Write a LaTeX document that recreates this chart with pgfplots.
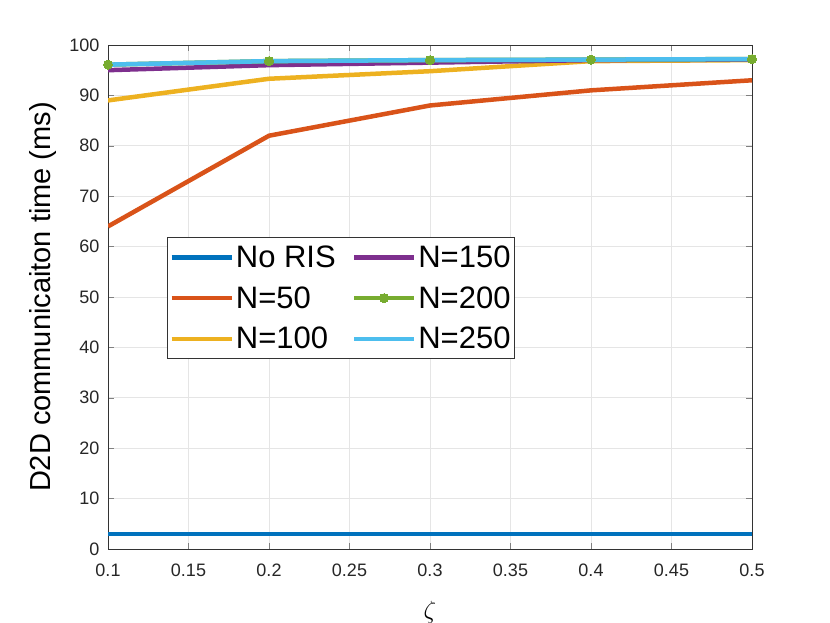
\documentclass[border=0pt]{standalone}
\usepackage{pgfplots}
\pgfplotsset{compat=1.18}
\usepackage{fontspec}
\setmainfont{Liberation Sans}
\definecolor{c1}{rgb}{0,0.447,0.741}
\definecolor{c2}{rgb}{0.85,0.325,0.098}
\definecolor{c3}{rgb}{0.929,0.694,0.125}
\definecolor{c4}{rgb}{0.494,0.184,0.556}
\definecolor{c5}{rgb}{0.466,0.674,0.188}
\definecolor{c6}{rgb}{0.301,0.745,0.933}
\begin{document}
\begin{tikzpicture}[x=1pt,y=1pt]
\useasboundingbox (0,0) rectangle (830,623);
\begin{axis}[
  at={(108pt,74pt)}, anchor=origin,
  scale only axis, width=644pt, height=504pt,
  xmin=0.1, xmax=0.5, ymin=0, ymax=100,
  xtick={0.1,0.15,...,0.5},
  xticklabels={0.1,0.15,0.2,0.25,0.3,0.35,0.4,0.45,0.5},
  ytick={0,10,...,100},
  /pgf/number format/assume math mode=true,
  tick label style={font=\fontsize{18}{20}\selectfont, color=black!85},
  xticklabel style={yshift=-11pt},
  yticklabel style={xshift=-5pt},
  tick align=inside, tick pos=both,
  major tick length=6pt,
  grid=major, grid style={gray!20, line width=0.6pt},
  axis line style={black!80, line width=0.8pt},
  xlabel={$\zeta$}, ylabel={D2D communicaiton time (ms)},
  xlabel style={font=\fontsize{25}{27}\selectfont, yshift=-18pt},
  ylabel style={font=\fontsize{29}{31}\selectfont, yshift=6pt},
  legend columns=3, transpose legend,
  legend style={at={(rel axis cs:0.0916,0.619)}, anchor=north west, font=\fontsize{31}{34}\selectfont,
    draw=black!80, line width=0.8pt, inner xsep=2pt, inner ysep=6.5pt,
    /tikz/every even column/.append style={column sep=14pt}, row sep=13.5pt},
  legend cell align=left,
  legend image code/.code={\draw[#1, line width=4.5pt] (0pt,0pt) -- (60pt,0pt); \path[#1,mark repeat=1] plot coordinates {(30pt,0pt)};},
  every axis plot/.append style={line width=4.5pt},
]
\addplot[c1, no marks] coordinates {(0.1,3) (0.2,3) (0.3,3) (0.4,3) (0.5,3)};
\addlegendentry{No RIS}
\addplot[c2, no marks] coordinates {(0.1,64) (0.2,82) (0.3,88) (0.4,91) (0.5,93)};
\addlegendentry{N=50}
\addplot[c3, no marks] coordinates {(0.1,89) (0.2,93.3) (0.3,94.8) (0.4,96.8) (0.5,97)};
\addlegendentry{N=100}
\addplot[c4, no marks] coordinates {(0.1,95) (0.2,96) (0.3,96.5) (0.4,97) (0.5,97.1)};
\addlegendentry{N=150}
\addplot[c5, mark=*, mark size=4.5pt, mark options={line width=0pt}] coordinates {(0.1,96.1) (0.2,96.8) (0.3,97) (0.4,97.1) (0.5,97.2)};
\addlegendentry{N=200}
\addplot[c6, no marks] coordinates {(0.1,96.1) (0.2,96.8) (0.3,97) (0.4,97.1) (0.5,97.2)};
\addlegendentry{N=250}
\end{axis}
\end{tikzpicture}
\end{document}
